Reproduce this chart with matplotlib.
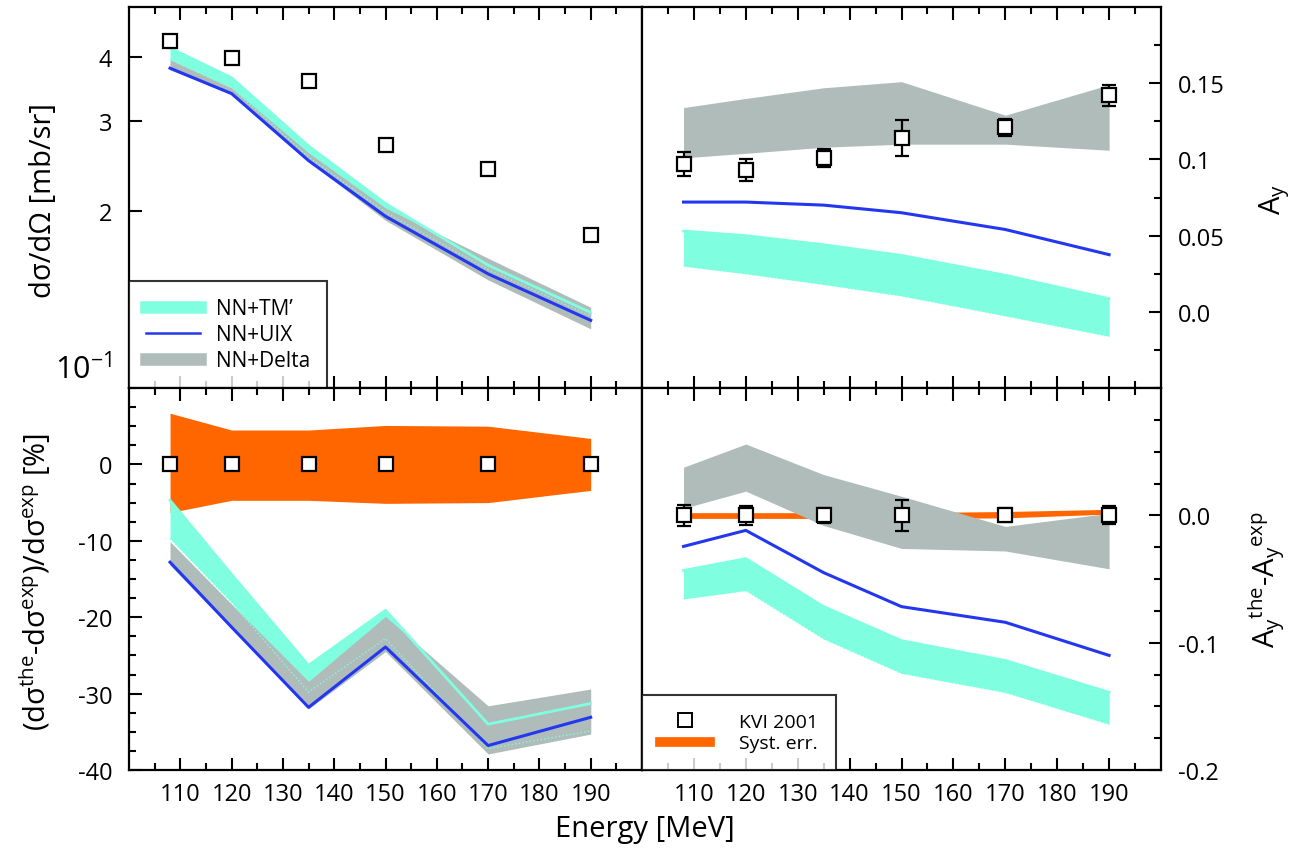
import matplotlib
matplotlib.use("Agg")
import matplotlib.pyplot as plt
from matplotlib.lines import Line2D
from matplotlib.ticker import MultipleLocator, NullLocator, FixedLocator

plt.rcParams["font.family"] = ["Open Sans", "DejaVu Sans"]
plt.rcParams["mathtext.fontset"] = "custom"
plt.rcParams["mathtext.rm"] = "Open Sans"
plt.rcParams["mathtext.default"] = "regular"
plt.rcParams["axes.unicode_minus"] = False

energy = [108, 120, 135, 150, 170, 190]
energy_ticks = [110, 120, 130, 140, 150, 160, 170, 180, 190]

# cross section [mb/sr]
xs_exp = [4.30, 3.98, 3.59, 2.69, 2.42, 1.80]
xs_tm_lo = [3.95, 3.48, 2.55, 1.99, 1.54, 1.25]
xs_tm_hi = [4.16, 3.64, 2.68, 2.07, 1.57, 1.27]
xs_delta_lo = [3.77, 3.38, 2.50, 1.92, 1.47, 1.18]
xs_delta_hi = [3.95, 3.48, 2.60, 2.03, 1.62, 1.30]
xs_uix = [3.80, 3.39, 2.51, 1.955, 1.51, 1.226]

# relative difference [%]
rd_exp = [0, 0, 0, 0, 0, 0]
rd_syst_lo = [-6.3, -4.7, -4.7, -5.1, -5.0, -3.4]
rd_syst_hi = [6.7, 4.5, 4.5, 5.1, 5.0, 3.4]
rd_tm_lo = [-9.7, -18.1, -29.8, -22.8, -37.2, -34.9]
rd_tm_hi = [-4.7, -14.4, -26.3, -19.1, -34.0, -31.3]
rd_delta_lo = [-13.2, -21.5, -32.0, -24.5, -37.9, -35.3]
rd_delta_hi = [-10.1, -18.3, -28.4, -19.9, -31.6, -29.4]
rd_uix = [-12.8, -21.3, -31.8, -23.9, -36.8, -33.1]

# analyzing power
ay_exp = [0.097, 0.093, 0.101, 0.114, 0.121, 0.142]
ay_err = [0.008, 0.0075, 0.006, 0.012, 0.0055, 0.007]
ay_tm_lo = [0.030, 0.025, 0.018, 0.0105, -0.0026, -0.016]
ay_tm_hi = [0.053, 0.050, 0.044, 0.037, 0.024, 0.0086]
ay_delta_lo = [0.101, 0.104, 0.108, 0.110, 0.110, 0.106]
ay_delta_hi = [0.134, 0.140, 0.147, 0.151, 0.129, 0.149]
ay_uix = [0.072, 0.072, 0.070, 0.065, 0.054, 0.0375]

# Ay difference
day_exp = [0, 0, 0, 0, 0, 0]
day_syst_lo = [-0.0024, -0.0024, -0.0024, -0.0024, -0.002, 0.001]
day_syst_hi = [0.0021, 0.0021, 0.0021, 0.0021, 0.003, 0.0047]
day_tm_lo = [-0.0656, -0.059, -0.097, -0.124, -0.139, -0.164]
day_tm_hi = [-0.0433, -0.034, -0.0717, -0.0984, -0.114, -0.139]
day_delta_lo = [0.0055, 0.019, -0.008, -0.026, -0.028, -0.042]
day_delta_hi = [0.0378, 0.056, 0.032, 0.015, -0.0087, 0.0016]
day_uix = [-0.0244, -0.0118, -0.045, -0.0717, -0.084, -0.110]

CYAN = "#7fffdf"
GRAY = "#afbcba"
BLUE = "#2437f0"
ORANGE = "#ff6600"

W, H = 1294, 854
fig = plt.figure(figsize=(W / 100, H / 100), dpi=100)

L, M, R = 129 / W, 642 / W, 1161 / W
T, Mid, B = 1 - 8 / H, 1 - 389 / H, 1 - 771 / H

ax_tl = fig.add_axes([L, Mid, M - L, T - Mid])
ax_tr = fig.add_axes([M, Mid, R - M, T - Mid])
ax_bl = fig.add_axes([L, B, M - L, Mid - B])
ax_br = fig.add_axes([M, B, R - M, Mid - B])


def bands(ax, tm_lo, tm_hi, d_lo, d_hi, uix, syst=None):
    if syst is not None:
        ax.fill_between(energy, syst[0], syst[1], color=ORANGE, lw=0, zorder=1)
    ax.fill_between(energy, tm_lo, tm_hi, color=CYAN, lw=0, zorder=2)
    ax.fill_between(energy, d_lo, d_hi, color=GRAY, lw=0, zorder=3)
    ax.plot(energy, tm_hi, color=CYAN, lw=2, zorder=4)
    ax.plot(energy, tm_lo, color=CYAN, lw=1, ls=":", zorder=4)
    ax.plot(energy, uix, color=BLUE, lw=2.2, zorder=5)


def style(ax, right=False):
    for s in ax.spines.values():
        s.set_linewidth(1.6)
    ax.set_xlim(100, 200)
    ax.xaxis.set_major_locator(FixedLocator(energy_ticks))
    ax.xaxis.set_minor_locator(FixedLocator([100 + 5 * i for i in range(1, 20)]))
    ax.tick_params(which="both", direction="in", top=True, bottom=True,
                   left=not right, right=right, labelleft=not right,
                   labelright=right, width=1.5, labelsize=17)
    ax.tick_params(which="major", length=9)
    ax.tick_params(which="minor", length=5)
    ax.tick_params(axis="x", pad=9)
    ax.tick_params(axis="y", pad=12)


# top left: cross section
bands(ax_tl, xs_tm_lo, xs_tm_hi, xs_delta_lo, xs_delta_hi, xs_uix)
ax_tl.plot(energy, xs_exp, ls="none", marker="s", ms=10, mfc="white",
           mec="black", mew=1.6, zorder=6)
ax_tl.set_yscale("log")
style(ax_tl)
ax_tl.set_ylim(0.905, 5.0)
ax_tl.yaxis.set_major_locator(FixedLocator([1, 2, 3, 4]))
ax_tl.yaxis.set_minor_locator(NullLocator())
ax_tl.set_yticklabels(["$10^{-1}$", "2", "3", "4"])
ax_tl.get_yticklabels()[0].set_fontsize(22)
ax_tl.yaxis.get_major_ticks()[0].tick1line.set_visible(False)
ax_tl.tick_params(labelbottom=False)
leg1 = ax_tl.legend(
    handles=[Line2D([], [], color=CYAN, lw=9),
             Line2D([], [], color=BLUE, lw=1.8),
             Line2D([], [], color=GRAY, lw=9)],
    labels=["NN+TM\u2019", "NN+UIX", "NN+Delta"],
    loc="lower left", borderaxespad=0, fancybox=False, fontsize=15,
    handlelength=2.6, labelspacing=0.25, borderpad=0.8)
leg1.get_frame().set_edgecolor("black")
leg1.get_frame().set_linewidth(1.5)

# top right: Ay
bands(ax_tr, ay_tm_lo, ay_tm_hi, ay_delta_lo, ay_delta_hi, ay_uix)
ax_tr.errorbar(energy, ay_exp, yerr=ay_err, ls="none", marker="s", ms=10,
               mfc="white", mec="black", mew=1.6, ecolor="black",
               elinewidth=1.6, capsize=5, capthick=1.6, zorder=6)
style(ax_tr, right=True)
ax_tr.set_ylim(-0.05, 0.2)
ax_tr.yaxis.set_major_locator(FixedLocator([0.0, 0.05, 0.1, 0.15]))
ax_tr.yaxis.set_minor_locator(FixedLocator([-0.025, 0.025, 0.075, 0.125, 0.175]))
ax_tr.set_yticklabels(["0.0", "0.05", "0.1", "0.15"])
ax_tr.tick_params(labelbottom=False)

# bottom left: relative difference
bands(ax_bl, rd_tm_lo, rd_tm_hi, rd_delta_lo, rd_delta_hi, rd_uix,
      syst=(rd_syst_lo, rd_syst_hi))
ax_bl.plot(energy, rd_exp, ls="none", marker="s", ms=10, mfc="white",
           mec="black", mew=1.6, zorder=6)
style(ax_bl)
ax_bl.set_ylim(-40, 10)
ax_bl.yaxis.set_major_locator(FixedLocator([-40, -30, -20, -10, 0]))
ax_bl.yaxis.set_minor_locator(MultipleLocator(2.5))

# bottom right: Ay difference
bands(ax_br, day_tm_lo, day_tm_hi, day_delta_lo, day_delta_hi, day_uix,
      syst=(day_syst_lo, day_syst_hi))
ax_br.errorbar(energy, day_exp, yerr=ay_err, ls="none", marker="s", ms=10,
               mfc="white", mec="black", mew=1.6, ecolor="black",
               elinewidth=1.6, capsize=5, capthick=1.6, zorder=6)
style(ax_br, right=True)
ax_br.set_ylim(-0.2, 0.1)
ax_br.yaxis.set_major_locator(FixedLocator([-0.2, -0.1, 0.0]))
ax_br.yaxis.set_minor_locator(MultipleLocator(0.025))
ax_br.set_yticklabels(["-0.2", "-0.1", "0.0"])
leg2 = ax_br.legend(
    handles=[Line2D([], [], ls="none", marker="s", ms=10, mfc="white",
                    mec="black", mew=1.4),
             Line2D([], [], color=ORANGE, lw=7)],
    labels=["KVI 2001", "Syst. err."],
    loc="lower left", borderaxespad=0, fancybox=False, fontsize=14,
    handlelength=2.6, labelspacing=0.2, borderpad=0.9, handletextpad=1.5)
leg2.get_frame().set_edgecolor("black")
leg2.get_frame().set_linewidth(1.5)

# axis titles
fig.text(43 / W, 1 - 200 / H, "d\u03c3/d\u03a9 [mb/sr]", rotation=90,
         ha="center", va="center", fontsize=21)
fig.text(35 / W, 1 - 582 / H,
         "(d\u03c3$^{the}$-d\u03c3$^{exp}$)/d\u03c3$^{exp}$ [%]",
         rotation=90, ha="center", va="center", fontsize=21)
fig.text(1275 / W, 1 - 200 / H, "A$_y$", rotation=90,
         ha="center", va="center", fontsize=21)
fig.text(1267 / W, 1 - 580 / H, "A$_y$$^{the}$-A$_y$$^{exp}$", rotation=90,
         ha="center", va="center", fontsize=21)
fig.text(645 / W, 1 - 830 / H, "Energy [MeV]", ha="center", va="center",
         fontsize=21)

fig.savefig("out.png", dpi=100)
